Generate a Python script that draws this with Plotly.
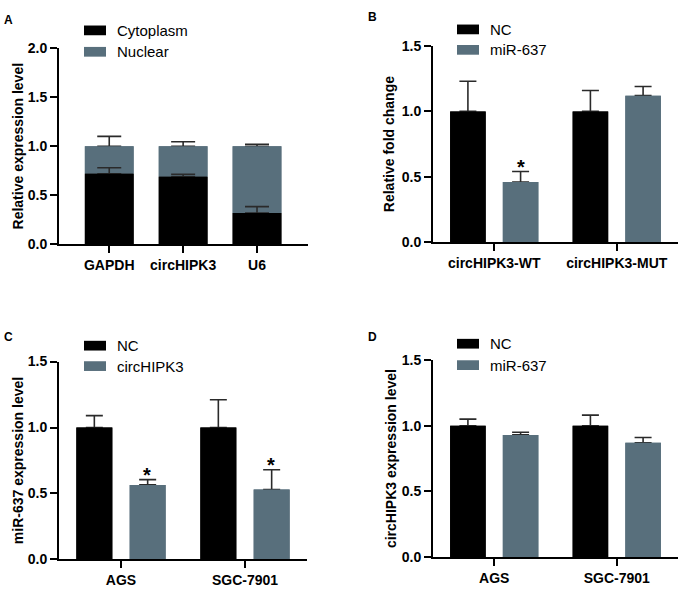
import plotly.graph_objects as go

W, H = 684, 595
BLACK = "#000000"
GRAY = "#586f7c"
FONT = "Liberation Sans, Arial, sans-serif"

# ---------------- data ----------------
a_categories = ["GAPDH", "circHIPK3", "U6"]
a_cytoplasm = [0.72, 0.69, 0.32]
a_cytoplasm_err = [0.06, 0.025, 0.065]
a_nuclear = [0.28, 0.31, 0.68]
a_nuclear_err = [0.10, 0.045, 0.02]

b_categories = ["circHIPK3-WT", "circHIPK3-MUT"]
b_nc = [1.0, 1.0]
b_nc_err = [0.23, 0.16]
b_mir = [0.46, 1.12]
b_mir_err = [0.08, 0.07]
b_sig = ["*", ""]

c_categories = ["AGS", "SGC-7901"]
c_nc = [1.0, 1.0]
c_nc_err = [0.09, 0.21]
c_circ = [0.565, 0.53]
c_circ_err = [0.04, 0.15]
c_sig = ["*", "*"]

d_categories = ["AGS", "SGC-7901"]
d_nc = [1.0, 1.0]
d_nc_err = [0.05, 0.08]
d_mir = [0.93, 0.87]
d_mir_err = [0.02, 0.04]

y_ticks_a = [0.0, 0.5, 1.0, 1.5, 2.0]
y_ticks_bcd = [0.0, 0.5, 1.0, 1.5]


def px_x(p):
    return p / W


def px_y(p):
    return 1 - p / H


def err(arr, width):
    return dict(type="data", symmetric=False, array=arr, arrayminus=[0] * len(arr),
                color="#2a2a2a", thickness=1.6, width=width, visible=True)


fig = go.Figure()


def bar(x, y, color, width, name, ax, error=None, offset=None, base=None, cover=False):
    kw = dict(x=x, y=y, name=name, marker_color=color, marker_line_width=0, width=width,
              xaxis="x" + ax, yaxis="y" + ax, showlegend=False)
    if offset is not None:
        kw["offset"] = offset
    if base is not None:
        kw["base"] = base
    if error is not None:
        kw["error_y"] = error
    if cover:
        kw["hoverinfo"] = "skip"
    fig.add_trace(go.Bar(**kw))


# ---- Panel A (stacked via base) ----
bar(a_categories, a_nuclear, GRAY, 0.66, "Nuclear", "", error=err(a_nuclear_err, 12), base=a_cytoplasm)
bar(a_categories, a_nuclear, GRAY, 0.66, "Nuclear", "", base=a_cytoplasm, cover=True)
bar(a_categories, a_cytoplasm, BLACK, 0.66, "Cytoplasm", "", error=err(a_cytoplasm_err, 12))
bar(a_categories, a_cytoplasm, BLACK, 0.66, "Cytoplasm", "", cover=True)

BW = 0.29
OFF_L = -0.36
OFF_R = 0.07


def grouped(cats, v1, e1, v2, e2, n1, n2, ax):
    bar(cats, v1, BLACK, BW, n1, ax, error=err(e1, 8.5), offset=OFF_L)
    bar(cats, v2, GRAY, BW, n2, ax, error=err(e2, 8.5), offset=OFF_R)
    # plain copies hide the lower error-bar shoes
    bar(cats, v1, BLACK, BW, n1, ax, offset=OFF_L, cover=True)
    bar(cats, v2, GRAY, BW, n2, ax, offset=OFF_R, cover=True)


grouped(b_categories, b_nc, b_nc_err, b_mir, b_mir_err, "NC", "miR-637", "2")
grouped(c_categories, c_nc, c_nc_err, c_circ, c_circ_err, "NC", "circHIPK3", "3")
grouped(d_categories, d_nc, d_nc_err, d_mir, d_mir_err, "NC", "miR-637", "4")

# ---------------- axes ----------------
tickfont = dict(family=FONT, size=14, color="black", weight="bold")
catfont = dict(family=FONT, size=14, color="black", weight="bold")
titlefont = dict(family=FONT, size=14, color="black", weight="bold")


def xaxis(domain, rng, anchor):
    return dict(domain=domain, range=rng, anchor=anchor, type="category", showline=True,
                linecolor="black", linewidth=2, ticks="outside", ticklen=7, tickwidth=2,
                tickcolor="black", tickfont=catfont, showgrid=False, zeroline=False,
                fixedrange=True)


def yaxis(domain, rng, ticks, title, anchor, standoff):
    return dict(domain=domain, range=rng, anchor=anchor, showline=True, linecolor="black",
                linewidth=2, ticks="outside", ticklen=7, tickwidth=2, tickcolor="black",
                tickvals=ticks, tickformat=".1f", tickfont=tickfont, showgrid=False,
                zeroline=False, title=dict(text=title, font=titlefont, standoff=standoff),
                fixedrange=True)


layout = dict(
    width=W, height=H, margin=dict(l=0, r=0, t=0, b=0), autosize=False,
    paper_bgcolor="white", plot_bgcolor="white", barmode="overlay", showlegend=False,
    font=dict(family=FONT, color="black"),
    xaxis=xaxis([px_x(59), px_x(308)], [-0.68, 2.69], "y"),
    yaxis=yaxis([px_y(243), px_y(41)], [0, 2.0], y_ticks_a, "Relative expression level", "x", 1),
    xaxis2=xaxis([px_x(433), px_x(678)], [-0.5, 1.5], "y2"),
    yaxis2=yaxis([px_y(240.7), px_y(39)], [0, 1.5], y_ticks_bcd, "Relative fold change", "x2", 4),
    xaxis3=xaxis([px_x(59), px_x(307)], [-0.5, 1.5], "y3"),
    yaxis3=yaxis([px_y(566.7), px_y(363.3)], [0, 1.5], y_ticks_bcd, "miR-637 expression level", "x3", 1),
    xaxis4=xaxis([px_x(433), px_x(678)], [-0.5, 1.5], "y4"),
    yaxis4=yaxis([px_y(564.3), px_y(361.7)], [0, 1.5], y_ticks_bcd, "circHIPK3 expression level", "x4", 2),
)
fig.update_layout(**layout)

# ---------------- legends (drawn swatches + text) ----------------
shapes = []
annotations = []


def legend_item(x0, y0, color, label):
    shapes.append(dict(type="rect", xref="paper", yref="paper", x0=px_x(x0), x1=px_x(x0 + 22),
                       y0=px_y(y0 + 10), y1=px_y(y0), fillcolor=color, line=dict(width=0)))
    annotations.append(dict(xref="paper", yref="paper", x=px_x(x0 + 31), y=px_y(y0 + 5),
                            xanchor="left", yanchor="middle", text=label, showarrow=False,
                            font=dict(family=FONT, size=15, color="black")))


legend_item(84, 18, BLACK, "Cytoplasm")
legend_item(84, 40, GRAY, "Nuclear")
legend_item(457, 17, BLACK, "NC")
legend_item(457, 38, GRAY, "miR-637")
legend_item(84, 342, BLACK, "NC")
legend_item(84, 363, GRAY, "circHIPK3")
legend_item(457, 340, BLACK, "NC")
legend_item(457, 362, GRAY, "miR-637")

# panel letters
for letter, x, y in [("A", 2, 3), ("B", 366, 0), ("C", 2, 329), ("D", 366, 329)]:
    annotations.append(dict(xref="paper", yref="paper", x=px_x(x), y=px_y(y), xanchor="left",
                            yanchor="top", text=letter, showarrow=False,
                            font=dict(family=FONT, size=12, color="black", weight="bold")))

# significance stars above treated bars
star_shift = (OFF_R + BW / 2) * 123


def stars(cats, vals, errs, sig, ax):
    for c, v, e, s in zip(cats, vals, errs, sig):
        if s:
            annotations.append(dict(xref="x" + ax, yref="y" + ax, x=c, y=v + e, xshift=star_shift,
                                    yshift=-8, xanchor="center", yanchor="bottom", text=s,
                                    showarrow=False,
                                    font=dict(family=FONT, size=20, color="black", weight="bold")))


stars(b_categories, b_mir, b_mir_err, b_sig, "2")
stars(c_categories, c_circ, c_circ_err, c_sig, "3")

fig.update_layout(shapes=shapes, annotations=annotations)
fig.write_html("out.html", config={"displayModeBar": False},
               post_script="document.body.style.margin='0';")
